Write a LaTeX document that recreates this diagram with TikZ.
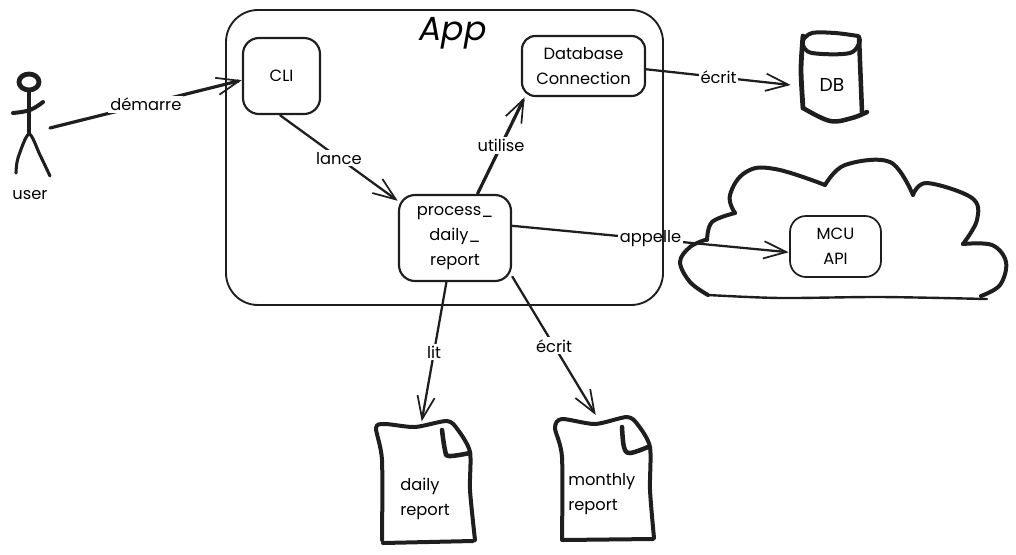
\documentclass[tikz,border=0pt]{standalone}
\usepackage{fontspec}
\setmainfont{Poppins}
\usetikzlibrary{arrows.meta}
\definecolor{ink}{HTML}{1E1E1E}
\tikzset{
  boxnode/.style={draw=ink,line width=1.6pt,rounded corners=12pt,inner sep=0pt,outer sep=1pt,align=center,font=\txt},
  ghost/.style={inner sep=0pt,outer sep=0pt,align=center,font=\txt},
  lbl/.style={fill=white,inner sep=1.5pt,font=\txt,midway},
  txtnode/.style={inner sep=0pt,align=left,font=\txt},
  conn/.style={draw=ink,line width=1.7pt,line cap=round,-{Straight Barb[length=17pt,width=13pt,line width=1.3pt]}},
  heavy/.style={draw=ink,line width=3pt,line cap=round,line join=round},
  mid/.style={draw=ink,line width=1.8pt,line cap=round,line join=round}
}
\newcommand{\txt}{\fontsize{12.2}{18.6}\selectfont}
\begin{document}
\begin{tikzpicture}[x=0.75pt,y=-0.75pt]
\useasboundingbox (0,0) rectangle (1016,554);
% cloud
\draw[heavy] plot[smooth,tension=.6] coordinates {(708,295) (690,282) (680,262) (690,247) (705,240)};
\draw[heavy] plot[smooth,tension=.6] coordinates {(707,240) (712,222) (735,213)};
\draw[heavy] plot[smooth,tension=.7] coordinates {(735,213) (730,195) (746,172) (775,169) (825,185)};
\draw[heavy] plot[smooth,tension=.6] coordinates {(825,185) (845,165) (890,162) (913,195)};
\draw[heavy] plot[smooth,tension=.6] coordinates {(913,195) (927,183) (972,198) (977,220) (963,244)};
\draw[heavy] plot[smooth,tension=.6] coordinates {(963,244) (992,245) (1006,262) (1000,285) (981,296)};
\draw[mid] plot[smooth,tension=.5] coordinates {(708,295) (780,298) (880,297) (987,299)};
% database drum
\draw[heavy,line width=3.6pt] plot[smooth,tension=.5] coordinates {(803,108) (801,70) (803,36)};
\draw[heavy] plot[smooth,tension=.6] coordinates {(803,40) (812,33) (835,33) (858,36)};
\draw[heavy,line width=3.4pt] (859,37) -- (862,112);
\draw[heavy] plot[smooth,tension=.6] coordinates {(803,45) (812,53) (850,53) (860,40)};
\draw[heavy,line width=3.4pt] plot[smooth,tension=.6] coordinates {(803,108) (830,121) (852,118) (867,112)};
\node[ghost,minimum width=62pt,minimum height=57pt,font=\fontsize{14}{18}\selectfont] (db) at (832,85) {DB};
% documents
\draw[heavy,line join=round] plot[smooth,tension=.45] coordinates {(382,540) (382,460) (376,428) (385,424) (415,427) (447,421) (458,430) (470,452) (470,490) (475,540)};
\draw[heavy] (383,543) -- (473,541);
\draw[heavy,line width=3.4pt] plot[smooth,tension=.6] coordinates {(442,430) (445,450) (449,456) (470,453)};
\node[ghost,minimum width=68pt,minimum height=91pt] (doca) at (427,482) {};
\node[txtnode,anchor=north west] (docatext) at (400,478) {daily\\report};
\draw[heavy] plot[smooth,tension=.45] coordinates {(562,540) (562,457) (555,428) (562,419) (595,424) (627,417) (638,425) (650,447) (650,490) (654,538)};
\draw[heavy] (563,540) -- (653,539);
\draw[heavy,line width=3.4pt] plot[smooth,tension=.6] coordinates {(622,427) (624,447) (630,453) (648,447)};
\node[ghost,minimum width=68pt,minimum height=99pt] (docb) at (605,481) {};
\node[txtnode,anchor=north west] (docbtext) at (568,473) {monthly\\report};
% stick figure
\draw[heavy,line width=3.6pt] (29,82) ellipse [x radius=10,y radius=8];
\draw[mid,line width=2.3pt] (29,90) -- (29,134);
\draw[heavy] plot[smooth,tension=.7] coordinates {(13,113) (30,110) (43,102)};
\draw[mid,line width=2.3pt] plot[smooth,tension=.5] coordinates {(16,173) (18,158) (29,134) (40,155) (50,176)};
\node[ghost,minimum width=30pt,minimum height=75pt] (usr) at (30,128) {};
\node[ghost] (usrtext) at (30,195) {user};
% boxes
\node[boxnode,minimum width=57.75pt,minimum height=57pt] (cli) at (281.5,76) {CLI};
\node[boxnode,minimum width=92.25pt,minimum height=45pt,rounded corners=10pt] (dbc) at (583.5,66) {Database\\Connection};
\node[boxnode,minimum width=84pt,minimum height=64.5pt] (proc) at (455,238) {process\_\\daily\_\\report};
\node[boxnode,minimum width=68.25pt,minimum height=45.75pt,line width=1.3pt] (mcu) at (835.5,246.5) {MCU\\API};
% connectors
\draw[conn,line width=2.4pt] (usr.east) -- node[lbl] (ldem) {démarre} (cli.186);
\draw[conn] (cli.268) -- node[lbl] (llan) {lance} (proc.147);
\draw[conn,line width=2.4pt] (proc.63) -- node[lbl] (luti) {utilise} (dbc.208.7);
\draw[conn] (dbc.357) -- node[lbl] (lecr) {écrit} (db.west);
\draw[conn] (proc.12) -- node[lbl] (lapp) {appelle} (mcu.187);
\draw[conn] (proc.259) -- node[lbl] (llit) {lit} (doca.95);
\draw[conn] (proc.326.5) -- node[lbl] (lecb) {écrit} (docb.98.6);
% app frame
\node[draw=ink,line width=1.4pt,rounded corners=24pt,inner sep=0pt,minimum width=327.75pt,minimum height=221.25pt] (app) at (444.5,157.5) {};
\node[ghost,font=\fontsize{25}{28}\selectfont\itshape] (apptext) at (453,33) {App};
\end{tikzpicture}
\end{document}
